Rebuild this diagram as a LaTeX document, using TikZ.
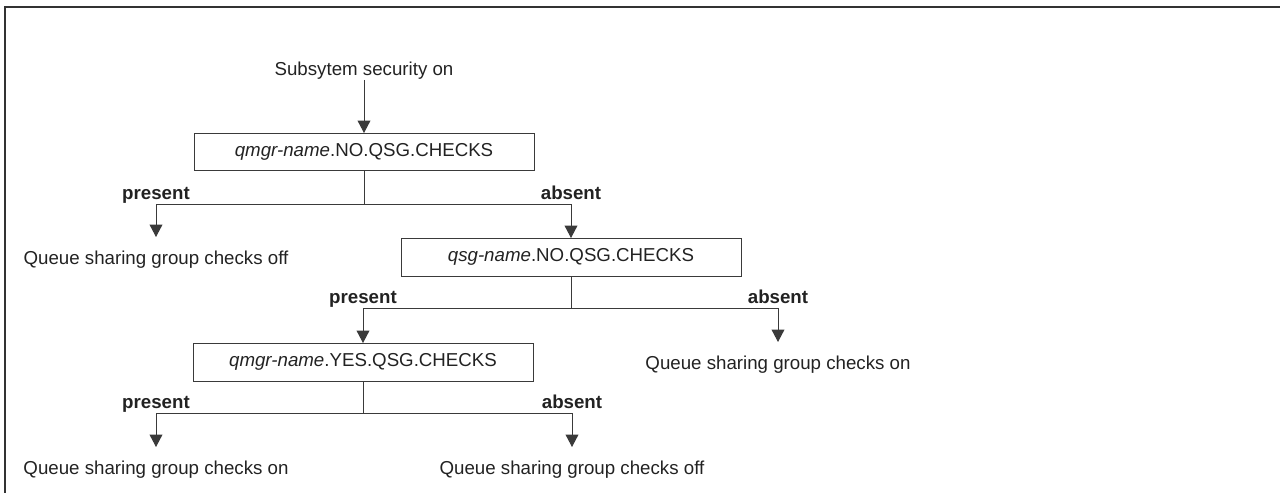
\documentclass[tikz,border=0pt]{standalone}
\usepackage{fontspec}
\setmainfont{Liberation Sans}
\usetikzlibrary{arrows.meta}
\definecolor{ink}{HTML}{222222}
\definecolor{linec}{HTML}{3A3A3A}
\definecolor{framec}{HTML}{333333}
\begin{document}
\begin{tikzpicture}[x=0.5pt,y=-0.5pt,
  font=\fontsize{9.35}{11.2}\selectfont,
  every node/.style={text=ink},
  line/.style={draw=linec,line width=0.5pt},
  arr/.style={line,-{Triangle[width=6.4pt,length=6.2pt]}},
  boxnode/.style={draw=linec,line width=0.5pt,minimum width=170pt,minimum height=19pt,inner sep=0pt,outer sep=0pt},
  result/.style={anchor=base,inner sep=0pt,outer xsep=0pt,outer ysep=6.7pt,text height=6.8pt,text depth=2pt},
  lbl/.style={font=\fontsize{9.35}{11.2}\selectfont\bfseries,anchor=base,inner sep=0pt,yshift=2.5pt},
  framestyle/.style={draw=framec,line width=1pt}]
\useasboundingbox (0,0) rectangle (1280,493);
\draw[framestyle] (1280,7) -- (5,7) -- (5,493);

\node[anchor=base,inner sep=0pt,text depth=2.2pt] (title) at (364,75) {Subsytem security on};
\node[boxnode,minimum height=18.5pt] (b1) at (364,151.5) {\textit{qmgr-name}.NO.QSG.CHECKS};
\coordinate (j1) at (364,204.5);
\node[result] (off1) at (156,264) {Queue sharing group checks off};
\node[boxnode] (b2) at (571,257) {\textit{qsg-name}.NO.QSG.CHECKS};
\coordinate (j2) at (571,308.5);
\node[boxnode] (b3) at (363,362) {\textit{qmgr-name}.YES.QSG.CHECKS};
\node[result] (on1) at (778,369) {Queue sharing group checks on};
\coordinate (j3) at (363,413.5);
\node[result] (on2) at (156,474) {Queue sharing group checks on};
\node[result] (off2) at (572,474) {Queue sharing group checks off};

\draw[arr] (title.south) -- (b1.north);
\draw[line] (b1.south) -- (j1);
\draw[arr] (j1) -| node[lbl,pos=0.5]{present} (off1.north);
\draw[arr] (j1) -| node[lbl,pos=0.5]{absent} (b2.north);
\draw[line] (b2.south) -- (j2);
\draw[arr] (j2) -| node[lbl,pos=0.5]{present} (b3.north);
\draw[arr] (j2) -| node[lbl,pos=0.5]{absent} (on1.north);
\draw[line] (b3.south) -- (j3);
\draw[arr] (j3) -| node[lbl,pos=0.5]{present} (on2.north);
\draw[arr] (j3) -| node[lbl,pos=0.5]{absent} (off2.north);
\end{tikzpicture}
\end{document}
